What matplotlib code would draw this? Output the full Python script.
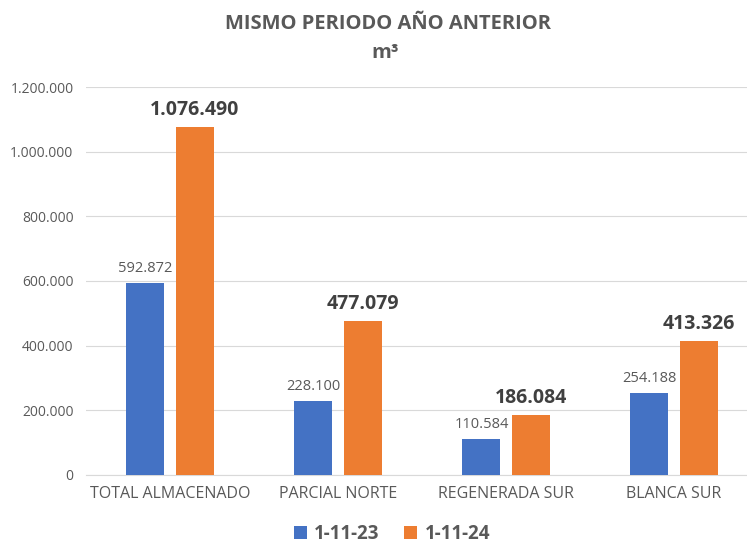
import matplotlib.pyplot as plt
import numpy as np
from matplotlib.ticker import FuncFormatter

categories = ["TOTAL ALMACENADO", "PARCIAL NORTE", "REGENERADA SUR", "BLANCA SUR"]
series_names = ["1-11-23", "1-11-24"]
vals_23 = [592872, 228100, 110584, 254188]
vals_24 = [1076490, 477079, 186084, 413326]
yticks = [0, 200000, 400000, 600000, 800000, 1000000, 1200000]

def fmt(v):
    return f"{int(v):,}".replace(",", ".")

plt.rcParams['font.family'] = ['Open Sans', 'DejaVu Sans']
fig = plt.figure(figsize=(7.47, 5.44), dpi=100)
ax = fig.add_axes([86/747, 0.127, 672/747, 0.713])

blue = "#4472C4"
orange = "#ED7D31"
x = np.arange(len(categories))
w = 0.226
off = 0.146
b1 = ax.bar(x - off, vals_23, w, color=blue, label=series_names[0], zorder=3)
b2 = ax.bar(x + off, vals_24, w, color=orange, label=series_names[1], zorder=3)

for xi, v in zip(x - off, vals_23):
    ax.text(xi, v + 22000, fmt(v), ha='center', va='bottom', fontsize=10.5, color='#595959')
for xi, v in zip(x + off, vals_24):
    ax.text(xi, v + 22000, fmt(v), ha='center', va='bottom', fontsize=14, fontweight='bold', color='#404040')

ax.set_xlim(-0.5, 3.5)
ax.set_ylim(0, 1200000)
ax.set_yticks(yticks)
ax.yaxis.set_major_formatter(FuncFormatter(lambda v, p: fmt(v)))
ax.set_xticks(x)
ax.set_xticklabels(categories)
ax.tick_params(axis='both', length=0, colors='#595959')
ax.tick_params(axis='x', labelsize=11.5, pad=8)
ax.tick_params(axis='y', labelsize=10, pad=9)
ax.grid(axis='y', color='#D9D9D9', linewidth=0.8, zorder=0)
for s in ['top', 'right', 'left']:
    ax.spines[s].set_visible(False)
ax.spines['bottom'].set_color('#D9D9D9')

fig.text(388/747, 0.955, "MISMO PERIODO AÑO ANTERIOR", ha='center', va='center',
         fontsize=14.5, fontweight='bold', color='#595959')
fig.text(385/747, 0.903, "m³", ha='center', va='center',
         fontsize=14.5, fontweight='bold', color='#595959')

leg = fig.legend(handles=[b1, b2], labels=series_names, loc='center', bbox_to_anchor=(392/747, 0.018),
                 ncol=2, frameon=False, fontsize=13.5, handlelength=0.7, handleheight=0.7,
                 columnspacing=1.3, handletextpad=0.4)
for t in leg.get_texts():
    t.set_color('#595959')
    t.set_fontweight('bold')

fig.savefig("out.png", dpi=100)
